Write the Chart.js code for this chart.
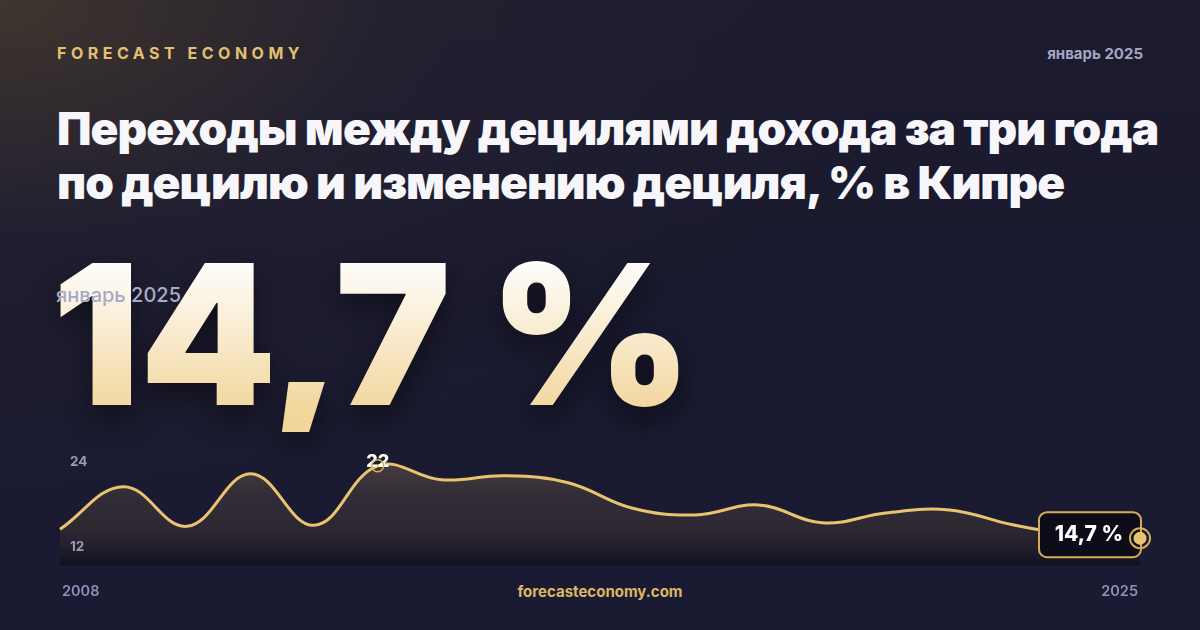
<!DOCTYPE html>
<html><head><meta charset="utf-8">
<script src="https://cdn.jsdelivr.net/npm/chart.js@4.4.1/dist/chart.umd.min.js"></script>
<style>
html,body{margin:0;padding:0;}
body{width:1200px;height:630px;overflow:hidden;position:relative;font-family:Inter,"Noto Sans",sans-serif;
background:
 radial-gradient(ellipse 900px 520px at 0% 0%, rgba(72,60,46,0.8) 0%, rgba(45,40,50,0.35) 45%, rgba(26,26,48,0) 100%),
 linear-gradient(180deg,#1d1b2e 0%,#19192f 45%,#1a1a33 100%);}
.abs{position:absolute;white-space:nowrap;}
#brand{left:57px;top:45px;font-size:16px;line-height:16px;font-weight:700;letter-spacing:4.5px;color:#e3c06f;}
#date{right:57px;top:46px;font-size:15px;line-height:15px;font-weight:700;color:#a3a6c4;}
#title{left:57px;top:101px;font-size:46px;line-height:54px;font-weight:900;color:#f6f6fb;letter-spacing:-0.95px;}
#big{left:52px;top:237px;font-size:195px;line-height:195px;font-weight:900;letter-spacing:-0.5px;background:linear-gradient(180deg,#ffffff 10%,#f2d69c 90%);-webkit-background-clip:text;background-clip:text;color:transparent;filter:drop-shadow(0 12px 14px rgba(0,0,0,0.45));}
#sub{left:56px;top:285px;font-size:20px;line-height:20px;font-weight:500;color:#a8aac9;}
#site{left:0;width:1200px;text-align:center;top:584px;font-size:15px;line-height:15px;font-weight:700;color:#dcb764;}
canvas{position:absolute;left:0;top:0;}
</style></head>
<body>
<div class="abs" id="brand">FORECAST ECONOMY</div>
<div class="abs" id="date">январь 2025</div>
<div class="abs" id="title">Переходы между децилями дохода за три года<br>по децилю и изменению дециля, % в Кипре</div>
<div class="abs" id="big">14,7 %</div>
<div class="abs" id="sub">январь 2025</div>
<div class="abs" id="site">forecasteconomy.com</div>
<canvas id="c" width="1200" height="630"></canvas>
<script>
const years = ['2008','2009','2010','2011','2012','2013','2014','2015','2016','2017','2018','2019','2020','2021','2022','2023','2024','2025'];
const values = [15.6,19.9,15.9,21.2,16.0,22.0,20.6,21.0,20.3,17.75,17.05,18.05,16.25,17.25,17.55,16.05,15.0,14.7];
const yTicks = [12, 24];

const maxIdx = values.indexOf(Math.max(...values));
const lastIdx = values.length - 1;
const fmt = v => String(v).replace('.', ',');

const deco = {
  id: 'deco',
  afterDatasetsDraw(chart) {
    const ctx = chart.ctx;
    const meta = chart.getDatasetMeta(0);
    const ys = chart.scales.y, xs = chart.scales.x;
    ctx.save();
    ctx.font = '700 13.5px Inter';
    ctx.fillStyle = '#9799bd';
    ctx.textAlign = 'left';
    ctx.textBaseline = 'middle';
    ctx.fillText(String(yTicks[1]), xs.left + 10, ys.getPixelForValue(yTicks[1]) + 16);
    ctx.fillText(String(yTicks[0]), xs.left + 10, ys.getPixelForValue(yTicks[0]) - 18);
    ctx.font = '600 14.5px Inter';
    ctx.fillStyle = '#8f92b6';
    ctx.textAlign = 'left';
    ctx.fillText(years[0], xs.getPixelForValue(0) + 2, 592);
    ctx.textAlign = 'right';
    ctx.fillText(years[lastIdx], xs.getPixelForValue(lastIdx) - 2, 592);
    const p = meta.data[maxIdx];
    ctx.font = '800 18px Inter';
    ctx.fillStyle = '#ffffff';
    ctx.textAlign = 'center';
    ctx.fillText(fmt(values[maxIdx]), p.x, p.y - 4);
    ctx.beginPath();
    ctx.arc(p.x, p.y, 6, 0, Math.PI * 2);
    ctx.strokeStyle = '#d9b25e';
    ctx.lineWidth = 1.5;
    ctx.stroke();
    const e = meta.data[lastIdx];
    const bx = e.x - 101, by = e.y - 26, bw = 102, bh = 45;
    ctx.beginPath();
    ctx.roundRect(bx, by, bw, bh, 8);
    ctx.fillStyle = '#0d0d1a';
    ctx.fill();
    ctx.strokeStyle = '#d6ad55';
    ctx.lineWidth = 2;
    ctx.stroke();
    ctx.font = '800 21px Inter';
    ctx.fillStyle = '#ffffff';
    ctx.textAlign = 'center';
    ctx.fillText(fmt(values[lastIdx]) + ' %', e.x - 51, e.y - 4);
    ctx.beginPath();
    ctx.arc(e.x, e.y, 10, 0, Math.PI * 2);
    ctx.strokeStyle = '#d6ad55';
    ctx.lineWidth = 2;
    ctx.stroke();
    ctx.beginPath();
    ctx.arc(e.x, e.y, 6.5, 0, Math.PI * 2);
    ctx.fillStyle = '#e9c470';
    ctx.fill();
    ctx.restore();
  }
};

new Chart(document.getElementById('c'), {
  type: 'line',
  data: {
    labels: years,
    datasets: [{
      data: values,
      borderColor: '#e9c46f',
      borderWidth: 3,
      tension: 0.4,
      fill: 'start',
      clip: false,
      pointRadius: 0,
      backgroundColor: (c) => {
        const a = c.chart.chartArea;
        if (!a) return 'transparent';
        const g = c.chart.ctx.createLinearGradient(0, a.top, 0, a.bottom);
        g.addColorStop(0, 'rgba(232,194,106,0.28)');
        g.addColorStop(0.45, 'rgba(150,120,80,0.19)');
        g.addColorStop(1, 'rgba(8,6,12,0.45)');
        return g;
      }
    }]
  },
  options: {
    responsive: false,
    animation: false,
    layout: { padding: { left: 60, right: 60, top: 446, bottom: 65 } },
    scales: {
      x: { display: false },
      y: { display: false, min: yTicks[0], max: yTicks[1] }
    },
    plugins: { legend: { display: false }, tooltip: { enabled: false } }
  },
  plugins: [deco]
});
</script>
</body></html>
